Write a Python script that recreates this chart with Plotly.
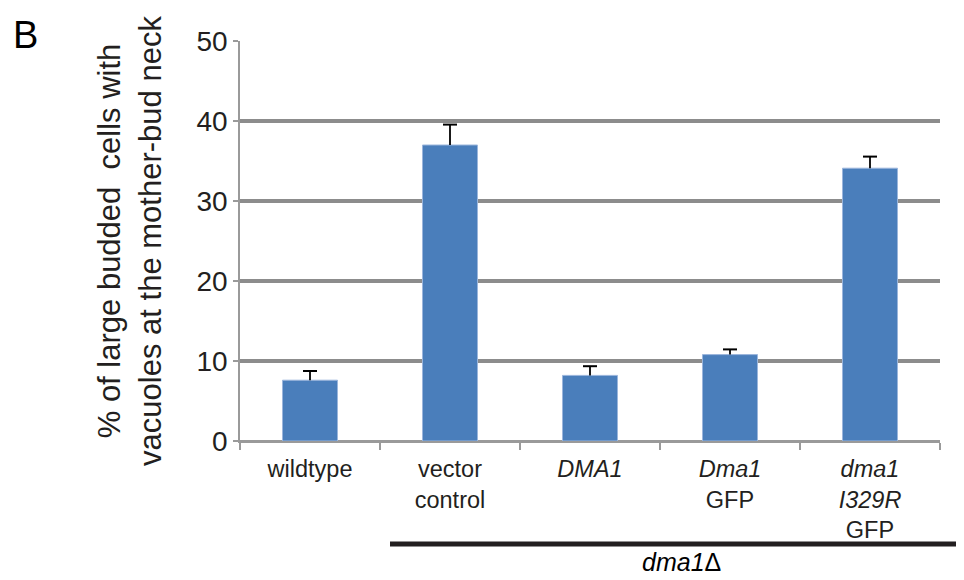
import plotly.graph_objects as go

categories = ["wildtype", "vector<br>control", "<i>DMA1</i>", "<i>Dma1</i><br>GFP",
              "<i>dma1</i><br><i>I329R</i><br>GFP"]
values = [7.6, 37.0, 8.2, 10.8, 34.1]
errors = [1.15, 2.55, 1.15, 0.65, 1.45]
y_ticks = [0, 10, 20, 30, 40, 50]

FONT = "Liberation Sans, Arial, sans-serif"
TXT = "#231f20"

err_tops = [v + e for v, e in zip(values, errors)]

fig = go.Figure()
fig.add_trace(go.Bar(
    x=categories, y=values,
    marker=dict(color="#4a7ebb", line=dict(color="#9bb6dc", width=1)),
    showlegend=False, hoverinfo="skip",
))
# upward-only error bars: stem from the error tip down to the bar top, cap at the tip
fig.add_trace(go.Scatter(
    x=categories, y=err_tops, mode="markers",
    marker=dict(symbol="line-ew-open", size=10, color="#000000",
                line=dict(color="#000000", width=2)),
    error_y=dict(type="data", symmetric=False, array=[0] * len(errors),
                 arrayminus=errors, color="#000000", thickness=1.8, width=0),
    showlegend=False,
))

fig.update_layout(
    width=964, height=580,
    margin=dict(l=232, r=32, t=33, b=147),
    plot_bgcolor="white", paper_bgcolor="white",
    font=dict(family=FONT, color=TXT),
    bargap=0.607,
    xaxis=dict(
        showline=True, linecolor="#9a9a9a", linewidth=2,
        ticks="outside", tickson="boundaries", ticklen=7, tickwidth=1.5,
        tickcolor="#9a9a9a", tickfont=dict(size=23.5, family=FONT, color=TXT),
        ticklabelstandoff=6, showgrid=False,
    ),
    yaxis=dict(
        range=[0, 50], tickvals=y_ticks, ticktext=[str(v) for v in y_ticks],
        showline=True, linecolor="#9a9a9a", linewidth=1.5,
        ticks="outside", ticklen=5, tickwidth=1.5, tickcolor="#9a9a9a",
        tickfont=dict(size=28, family=FONT, color=TXT),
        showgrid=True, gridcolor="#8c8c8c", gridwidth=3.5,
        zeroline=True, zerolinecolor="#9a9a9a", zerolinewidth=2,
        title=dict(text="% of large budded  cells with<br>vacuoles at the mother-bud neck",
                   font=dict(size=31, family=FONT, color=TXT), standoff=26),
    ),
)

fig.add_annotation(text="B", xref="paper", yref="paper", x=-0.327, y=1.015,
                   xanchor="left", yanchor="middle", showarrow=False,
                   font=dict(size=38, family=FONT, color="#000000"))

fig.add_shape(type="line", xref="paper", yref="paper",
              x0=0.2143, x1=1.033, y0=-0.2575, y1=-0.2575,
              line=dict(color="#231f20", width=5))
fig.add_annotation(text="<i>dma1</i>Δ", xref="paper", yref="paper",
                   x=0.631, y=-0.3025, xanchor="center", yanchor="middle",
                   showarrow=False, font=dict(size=25, family=FONT, color="#000000"))

fig.write_html("out.html")
